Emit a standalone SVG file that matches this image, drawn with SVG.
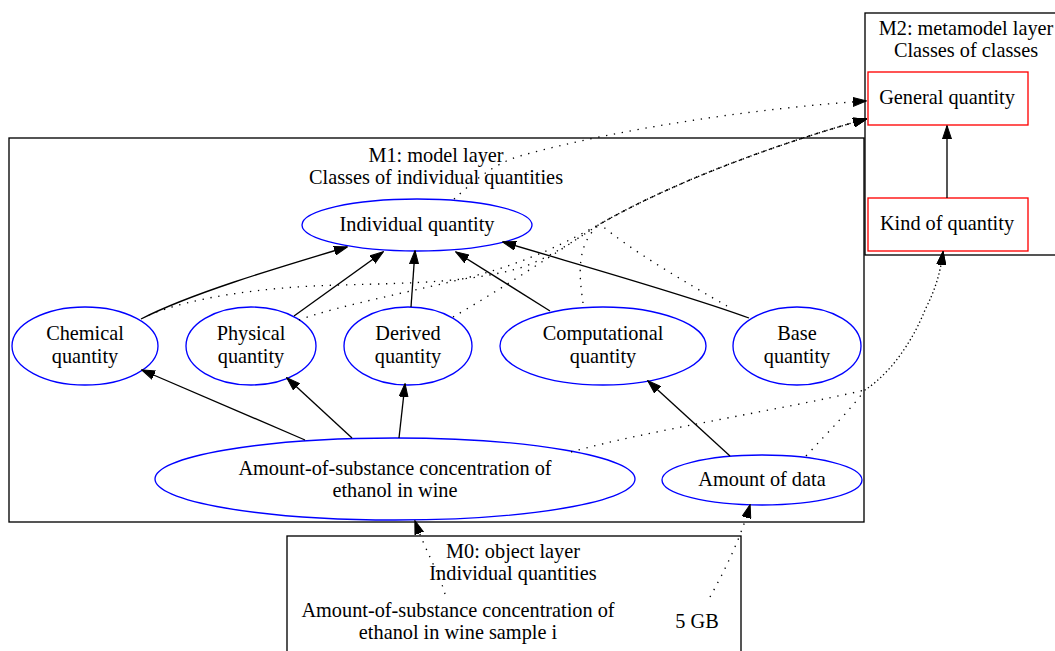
<svg xmlns="http://www.w3.org/2000/svg" width="1055" height="651" viewBox="0 0 1055 651">
<style>
text{font-family:"Liberation Serif","Times New Roman",serif;font-size:20.3px;fill:#000;text-anchor:middle}
.cl{fill:none;stroke:#000;stroke-width:1.33}
.el{fill:none;stroke:#0000ff;stroke-width:1.33}
.rc{fill:none;stroke:#ff0000;stroke-width:1.33}
.e{fill:none;stroke:#000;stroke-width:1.33;marker-end:url(#ah)}
.d{fill:none;stroke:#000;stroke-width:1.33;stroke-dasharray:1.33,6.67;marker-end:url(#ah)}
</style>
<defs>
<marker id="ah" markerUnits="userSpaceOnUse" markerWidth="14" markerHeight="10" viewBox="0 0 14 10" refX="13" refY="5" orient="auto">
<path d="M0,0.5 L13.5,5 L0,9.5 Z" fill="#000" stroke="#000" stroke-width="1"/>
</marker>
</defs>
<rect width="1055" height="651" fill="#fff"/>

<g id="cluster_M2">
<rect class="cl" x="865" y="13" width="200" height="242"/>
<text x="966" y="35">M2: metamodel layer</text>
<text x="966" y="57">Classes of classes</text>
</g>
<g id="cluster_M1">
<rect class="cl" x="9" y="138" width="855" height="384"/>
<text x="436" y="162">M1: model layer</text>
<text x="436" y="184">Classes of individual quantities</text>
</g>
<g id="cluster_M0">
<rect class="cl" x="287" y="536" width="454" height="130"/>
<text x="513" y="558">M0: object layer</text>
<text x="513" y="580">Individual quantities</text>
</g>

<g id="general_quantity">
<rect class="rc" x="868" y="72" width="160" height="53"/>
<text x="947" y="104">General quantity</text>
</g>
<g id="kind_of_quantity">
<rect class="rc" x="868" y="198" width="160" height="53"/>
<text x="947" y="230">Kind of quantity</text>
</g>
<g id="individual_quantity">
<ellipse class="el" cx="417" cy="225" rx="115" ry="26"/>
<text x="417" y="231">Individual quantity</text>
</g>
<g id="chemical_quantity">
<ellipse class="el" cx="85" cy="346" rx="73" ry="39"/>
<text x="85" y="340">Chemical</text>
<text x="85" y="363">quantity</text>
</g>
<g id="physical_quantity">
<ellipse class="el" cx="251" cy="346" rx="65" ry="39"/>
<text x="251" y="340">Physical</text>
<text x="251" y="363">quantity</text>
</g>
<g id="derived_quantity">
<ellipse class="el" cx="408" cy="346" rx="64" ry="39"/>
<text x="408" y="340">Derived</text>
<text x="408" y="363">quantity</text>
</g>
<g id="computational_quantity">
<ellipse class="el" cx="603" cy="346" rx="103" ry="39"/>
<text x="603" y="340">Computational</text>
<text x="603" y="363">quantity</text>
</g>
<g id="base_quantity">
<ellipse class="el" cx="797" cy="346" rx="64" ry="39"/>
<text x="797" y="340">Base</text>
<text x="797" y="363">quantity</text>
</g>
<g id="aos_concentration">
<ellipse class="el" cx="395" cy="479" rx="240" ry="41"/>
<text x="395" y="475">Amount-of-substance concentration of</text>
<text x="395" y="497">ethanol in wine</text>
</g>
<g id="amount_of_data">
<ellipse class="el" cx="762" cy="480" rx="100" ry="25"/>
<text x="762" y="486">Amount of data</text>
</g>
<g id="sample_i">
<text x="458" y="617">Amount-of-substance concentration of</text>
<text x="458" y="639">ethanol in wine sample i</text>
</g>
<g id="five_gb">
<text x="697" y="628">5 GB</text>
</g>

<g id="connectors">
<path class="e" d="M947,198 L947,126"/>
<path class="e" d="M141,319 C190,294 270,270 347,247"/>
<path class="e" d="M294,316 L383,252"/>
<path class="e" d="M411,307 L415,251"/>
<path class="e" d="M550,311 L456,252"/>
<path class="e" d="M749,318 C690,296 590,268 503,242"/>
<path class="e" d="M305,440 L142,370"/>
<path class="e" d="M352,438 L287,378"/>
<path class="e" d="M399,438 L405,384"/>
<path class="e" d="M730,456 L648,381"/>

<path class="d" d="M454,199 C470,185 490,165 520,156 C620,128 760,108 866,101"/>
<path class="d" d="M149,315 C190,298 260,287 340,285 C420,283 470,282 520,268 C550,258 575,240 600,224 C680,178 790,140 866,119"/>
<path class="d" d="M299,320 C340,305 420,290 470,277 C530,262 570,240 600,224 C680,178 790,140 866,119"/>
<path class="d" d="M453,317 C500,290 560,250 600,224 C680,178 790,140 866,119"/>
<path class="d" d="M583,303 C580,280 574,245 600,224 C680,178 790,140 866,119"/>
<path class="d" d="M727,306 C690,285 630,250 600,224 C680,178 790,140 866,119"/>

<path class="d" d="M571,452 C650,430 780,410 865,390 C895,370 915,335 925,310 C935,290 940,275 943,252"/>
<path class="d" d="M806,456 C830,430 850,410 865,390 C895,370 915,335 925,310 C935,290 940,275 943,252"/>

<path class="d" d="M445,594 C440,575 425,550 415,521"/>
<path class="d" d="M710,597 C725,570 740,540 750,505"/>
</g>
</svg>
